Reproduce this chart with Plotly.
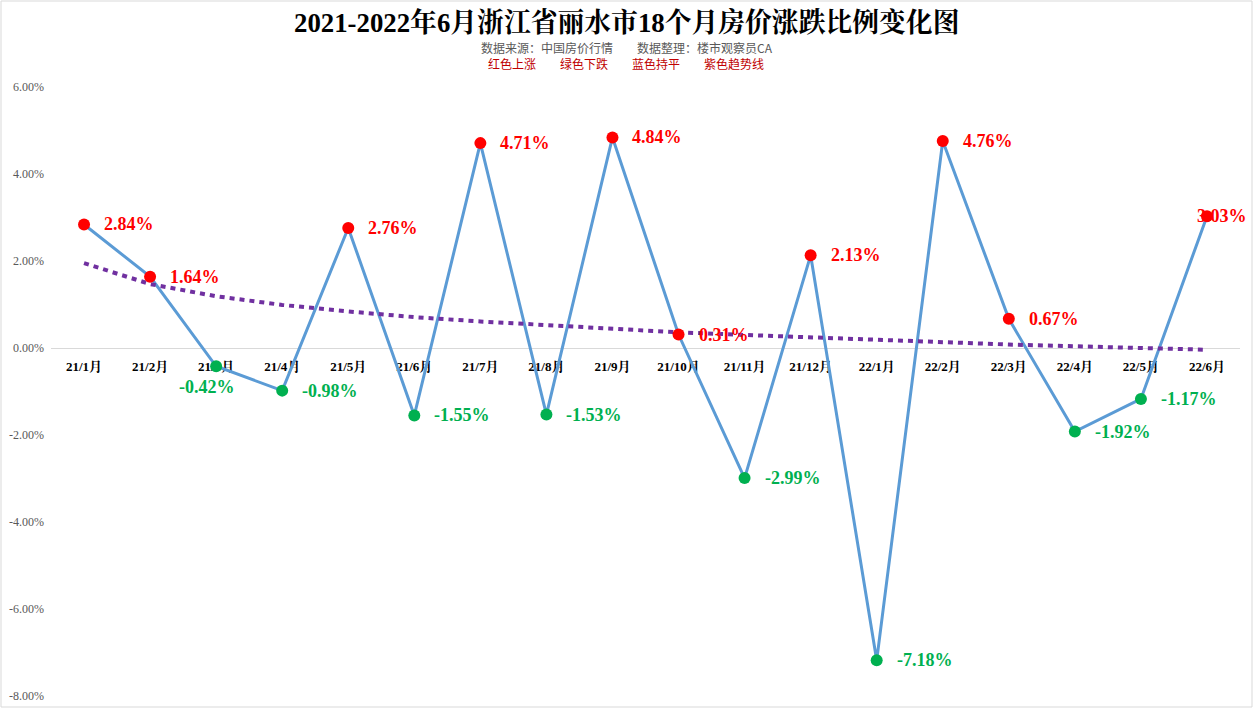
import plotly.graph_objects as go

# ---- data ----
months = ["21/1月", "21/2月", "21/3月", "21/4月", "21/5月", "21/6月", "21/7月", "21/8月", "21/9月",
          "21/10月", "21/11月", "21/12月", "22/1月", "22/2月", "22/3月", "22/4月", "22/5月", "22/6月"]
changes = [2.84, 1.64, -0.42, -0.98, 2.76, -1.55, 4.71, -1.53, 4.84,
           0.31, -2.99, 2.13, -7.18, 4.76, 0.67, -1.92, -1.17, 3.03]
trend = [1.95, 1.47, 1.19, 0.99, 0.84, 0.71, 0.61, 0.52, 0.43,
         0.36, 0.30, 0.24, 0.18, 0.13, 0.08, 0.04, 0.00, -0.04]
y_tick_vals = [-8, -6, -4, -2, 0, 2, 4, 6]
y_tick_text = ["-8.00%", "-6.00%", "-4.00%", "-2.00%", "0.00%", "2.00%", "4.00%", "6.00%"]

title_text = "2021-2022年6月浙江省丽水市18个月房价涨跌比例变化图"
source_text = "数据来源：中国房价行情　　数据整理：楼市观察员CA"
legend_text = "红色上涨　　绿色下跌　　蓝色持平　　紫色趋势线"

RED = "#FF0000"
GREEN = "#00B050"
BLUE = "#5B9BD5"
PURPLE = "#7030A0"
SERIF = "Liberation Serif, Times New Roman, Noto Serif CJK SC, Noto Sans CJK SC, serif"

pt_colors = [RED if v > 0 else GREEN for v in changes]

fig = go.Figure()
fig.add_trace(go.Scatter(x=months, y=changes, mode="lines",
                         line=dict(color=BLUE, width=3), hoverinfo="skip", showlegend=False))
fig.add_trace(go.Scatter(x=months, y=trend, mode="lines",
                         line=dict(color=PURPLE, width=4, dash="5px,5px"), hoverinfo="skip",
                         showlegend=False))
fig.add_trace(go.Scatter(x=months, y=changes, mode="markers",
                         marker=dict(color=pt_colors, size=12, line=dict(width=0)),
                         showlegend=False))

# special label placements (index -> (xanchor, xshift, yshift))
special = {2: ("center", -9, -21), 17: ("left", -12, 0)}
for i, (m, v) in enumerate(zip(months, changes)):
    xa, xs, ys = special.get(i, ("left", 18, 0))
    fig.add_annotation(x=m, y=v, text=f"{v:.2f}%", showarrow=False,
                       xanchor=xa, yanchor="middle", xshift=xs, yshift=ys,
                       font=dict(family=SERIF, size=18, color=pt_colors[i], weight="bold"))

# titles
W, H = 1254, 711
ML, MR, MT, MB = 51, 14, 87, 15
pw, ph = W - ML - MR, H - MT - MB


def py(pix):
    return (H - MB - pix) / ph


def px(pix):
    return (pix - ML) / pw


fig.add_annotation(x=px(626), y=py(23), xref="paper", yref="paper", text=f"<b>{title_text}</b>",
                   showarrow=False, xanchor="center", yanchor="middle",
                   font=dict(family=SERIF, size=26.8, color="#000000"))
fig.add_annotation(x=px(627), y=py(47), xref="paper", yref="paper", text=source_text,
                   showarrow=False, xanchor="center", yanchor="middle",
                   font=dict(family="Noto Sans CJK SC, sans-serif", size=12, color="#595959"))
fig.add_annotation(x=px(626), y=py(63), xref="paper", yref="paper", text=legend_text,
                   showarrow=False, xanchor="center", yanchor="middle",
                   font=dict(family="Noto Sans CJK SC, sans-serif", size=12, color="#C00000"))

# outer frame
fig.add_shape(type="rect", xref="paper", yref="paper",
              x0=px(1), x1=px(1252), y0=py(707), y1=py(1),
              line=dict(color="#D9D9D9", width=1), fillcolor="rgba(0,0,0,0)")

fig.update_layout(
    width=W, height=H,
    margin=dict(l=ML, r=MR, t=MT, b=MB, autoexpand=False),
    paper_bgcolor="white", plot_bgcolor="white",
    showlegend=False,
    xaxis=dict(type="category", range=[-0.5, 17.5], anchor="free",
               position=8 / 14, showline=True, linecolor="#D9D9D9", linewidth=1,
               showgrid=False, zeroline=False, ticks="", layer="below traces",
               ticklabelstandoff=6, automargin=False,
               tickfont=dict(family=SERIF, size=13, color="#000000", weight="bold")),
    yaxis=dict(range=[-8, 6], tickvals=y_tick_vals, ticktext=y_tick_text,
               showgrid=False, zeroline=False, showline=False, ticks="",
               ticklabelstandoff=6, automargin=False,
               tickfont=dict(family=SERIF, size=12, color="#595959")),
)

fig.write_html("out.html")
